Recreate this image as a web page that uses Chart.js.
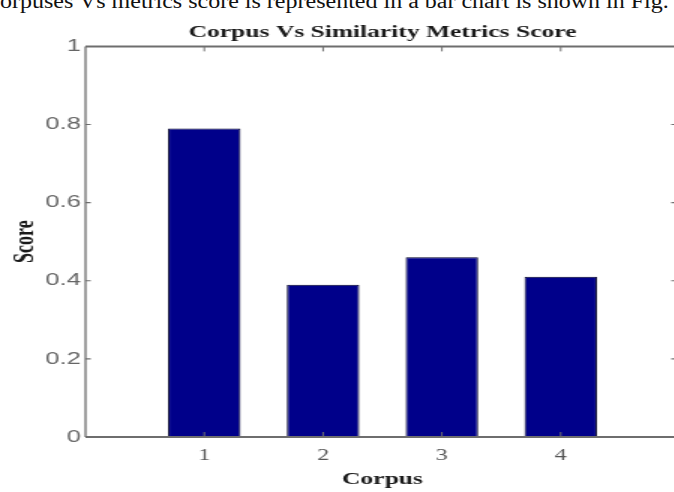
<!DOCTYPE html>
<html>
<head>
<meta charset="utf-8">
<script src="https://cdn.jsdelivr.net/npm/chart.js@4"></script>
<style>
    html, body { margin: 0; padding: 0; background: #fff; overflow: hidden; width: 674px; height: 492px; }
    #caption {
        position: absolute; left: -16px; top: -9px;
        font-family: 'Liberation Serif', serif; font-size: 20px; line-height: 20px;
        color: #111; white-space: nowrap;
        transform: scaleX(1.2); transform-origin: 0 0;
    }
    /* the figure in the reference is stretched sideways, so stretch the canvas the same way */
    #wrap { position: absolute; left: 0; top: 0; transform: scaleX(1.5); transform-origin: 0 0; }
</style>
</head>
<body>
<div id="caption">Corpuses Vs metrics score is represented in a bar chart is shown in Fig.</div>
<div id="wrap"><canvas id="scoreChart" width="462" height="492"></canvas></div>
<script>
// values
const categories = ['1', '2', '3', '4'];
const scores = [0.79, 0.39, 0.46, 0.41];
const yTicks = [0, 0.2, 0.4, 0.6, 0.8, 1];

//////////////////////// box + inward ticks (matlab style) ////////////////////////
const boxPlugin = {
    id: 'boxPlugin',
    afterDatasetsDraw(chart) {
        const { ctx, chartArea: a, scales } = chart;
        ctx.save();
        ctx.strokeStyle = '#6e6e6e';
        // horizontal edges
        ctx.lineWidth = 2;
        ctx.beginPath();
        ctx.moveTo(a.left, a.top); ctx.lineTo(a.right, a.top);
        ctx.moveTo(a.left, a.bottom); ctx.lineTo(a.right, a.bottom);
        ctx.stroke();
        // vertical edges (they get wider with the stretch)
        ctx.lineWidth = 1.3;
        ctx.beginPath();
        ctx.moveTo(a.left, a.top); ctx.lineTo(a.left, a.bottom);
        ctx.moveTo(a.right, a.top); ctx.lineTo(a.right, a.bottom);
        ctx.stroke();
        // y ticks on left and right side
        ctx.lineWidth = 1.2;
        ctx.beginPath();
        yTicks.slice(1, -1).forEach(v => {
            const y = scales.y.getPixelForValue(v);
            ctx.moveTo(a.left, y); ctx.lineTo(a.left + 3.5, y);
            ctx.moveTo(a.right, y); ctx.lineTo(a.right - 5.5, y);
        });
        ctx.stroke();
        // x ticks on top and bottom
        ctx.lineWidth = 1;
        ctx.beginPath();
        categories.forEach((c, i) => {
            const x = scales.x.getPixelForValue(i + 1);
            ctx.moveTo(x, a.top); ctx.lineTo(x, a.top + 5);
            ctx.moveTo(x, a.bottom); ctx.lineTo(x, a.bottom - 5);
        });
        ctx.stroke();
        ctx.restore();
    }
};

const config = {
    type: 'bar',
    data: {
        datasets: [{
            label: 'Score',
            data: scores.map((v, i) => ({ x: i + 1, y: v })),
            backgroundColor: '#00008a',
            borderColor: '#00002a',
            borderWidth: 1,
            categoryPercentage: 1,
            barPercentage: 0.61
        }]
    },
    options: {
        responsive: false,
        animation: false,
        layout: { padding: { left: 0, right: 2, top: 0, bottom: 0 } },
        plugins: {
            legend: { display: false },
            tooltip: { enabled: false },
            title: {
                display: true,
                fullSize: false,
                text: 'Corpus Vs Similarity Metrics Score',
                color: '#1a1a1a',
                font: { family: "'Liberation Serif', serif", size: 17, weight: 'bold' },
                padding: { top: 22, bottom: 4 }
            }
        },
        scales: {
            x: {
                type: 'linear',
                offset: false,
                min: 0,
                max: 5,
                grid: { display: false, drawTicks: false },
                border: { display: false },
                ticks: {
                    stepSize: 1,
                    padding: 9,
                    color: '#555',
                    font: { family: "'Liberation Serif', serif", size: 16 },
                    callback: (v) => categories[v - 1] ?? ''
                },
                title: {
                    display: true,
                    text: 'Corpus',
                    color: '#1a1a1a',
                    font: { family: "'Liberation Serif', serif", size: 17, weight: 'bold' },
                    padding: { top: 0, bottom: 2 }
                },
                afterFit: (s) => { s.height = 55; }
            },
            y: {
                min: 0,
                max: 1,
                grid: { display: false, drawTicks: false },
                border: { display: false },
                ticks: {
                    stepSize: 0.2,
                    padding: 3,
                    color: '#666',
                    font: { family: "'Liberation Sans', sans-serif", size: 17 },
                    callback: (v) => String(+v.toFixed(1))
                },
                title: {
                    display: true,
                    text: 'Score',
                    color: '#1a1a1a',
                    font: { family: "'Liberation Serif', serif", size: 18, weight: 'bold' },
                    padding: { top: 7, bottom: 0 }
                },
                afterFit: (s) => { s.width = 57; }
            }
        }
    },
    plugins: [boxPlugin]
};

document.addEventListener('DOMContentLoaded', () => {
    const ctx = document.getElementById('scoreChart').getContext('2d');
    new Chart(ctx, config);
});
</script>
</body>
</html>
